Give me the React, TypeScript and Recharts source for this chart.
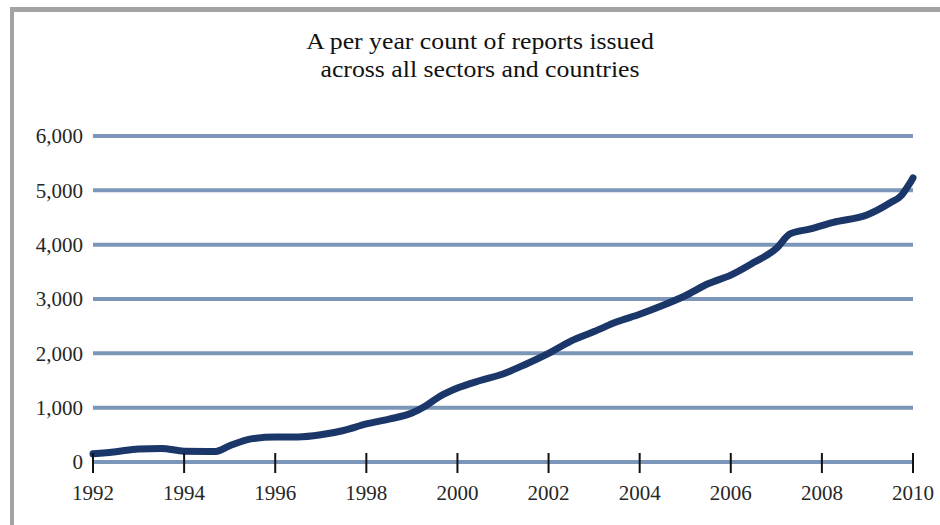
import React from "react"
import { LineChart, Line, XAxis, YAxis, CartesianGrid } from "recharts"

// fractional years and report counts
const years = [
  1992.0, 1992.5, 1993.0, 1993.5, 1994.0, 1994.7, 1995.0, 1995.5, 1996.0, 1996.5,
  1997.0, 1997.5, 1998.0, 1998.5, 1999.0, 1999.3, 1999.6, 2000.0, 2000.5, 2001.0,
  2001.5, 2002.0, 2002.5, 2003.0, 2003.5, 2004.0, 2004.5, 2005.0, 2005.5, 2006.0,
  2006.5, 2007.0, 2007.3, 2007.75, 2008.25, 2009.0, 2009.5, 2009.75, 2009.9, 2010.0,
]
const reports = [
  150, 190, 240, 250, 200, 195, 300, 430, 460, 460,
  500, 580, 700, 790, 900, 1030, 1200, 1360, 1500, 1620,
  1800, 2000, 2230, 2400, 2580, 2720, 2880, 3060, 3280, 3440,
  3670, 3930, 4200, 4290, 4410, 4550, 4770, 4910, 5090, 5230,
]
const yearTicks = [1992, 1994, 1996, 1998, 2000, 2002, 2004, 2006, 2008, 2010]
const countTicks = [0, 1000, 2000, 3000, 4000, 5000, 6000]
const titleLines = ["A per year count of reports issued", "across all sectors and countries"]

const data = years.map((year, i) => ({ year, count: reports[i] }))

const FONT = '"Liberation Serif", "Times New Roman", serif'

const YearTick = (props: any) => {
  const { x, y, payload } = props
  return (
    <g>
      <line x1={x} x2={x} y1={y - 9} y2={y + 11} stroke="#111" strokeWidth={2} />
      <text x={x} y={y + 38} textAnchor="middle" fontFamily={FONT} fontSize={21} fill="#262626">
        {payload.value}
      </text>
    </g>
  )
}

export default function App() {
  return (
    <div style={{ position: "absolute", left: 0, top: 0, width: 940, height: 525, background: "#fff", overflow: "hidden" }}>
      <div
        style={{
          position: "absolute",
          left: 10,
          top: 7,
          width: 940,
          height: 525,
          borderTop: "5px solid #a3a3a3",
          borderLeft: "4px solid #a3a3a3",
        }}
      />
      <div
        style={{
          position: "absolute",
          left: 0,
          top: 28,
          width: 960,
          textAlign: "center",
          fontFamily: FONT,
          fontSize: 23,
          lineHeight: "28px",
          color: "#111",
          transform: "scaleX(1.12)",
          transformOrigin: "480px 0",
        }}
      >
        {titleLines.map((t) => (
          <div key={t}>{t}</div>
        ))}
      </div>
      <LineChart
        width={940}
        height={525}
        data={data}
        margin={{ top: 136, right: 27, bottom: 23, left: 23 }}
        style={{ position: "absolute", left: 0, top: 0 }}
      >
        <CartesianGrid vertical={false} stroke="#7b96b8" strokeWidth={4} />
        <XAxis
          dataKey="year"
          type="number"
          domain={[1992, 2010]}
          ticks={yearTicks}
          axisLine={false}
          tickLine={false}
          tickSize={0}
          tickMargin={0}
          height={40}
          tick={<YearTick />}
          interval={0}
        />
        <YAxis
          type="number"
          domain={[0, 6000]}
          ticks={countTicks}
          axisLine={false}
          tickLine={false}
          tickSize={0}
          tickMargin={10}
          width={70}
          interval={0}
          tickFormatter={(v: number) => v.toLocaleString("en-US")}
          tick={{ fontFamily: FONT, fontSize: 21, fill: "#262626" }}
        />
        <Line
          type="monotone"
          dataKey="count"
          stroke="#1b3669"
          strokeWidth={7}
          dot={false}
          strokeLinecap="round"
          isAnimationActive={false}
        />
      </LineChart>
    </div>
  )
}
